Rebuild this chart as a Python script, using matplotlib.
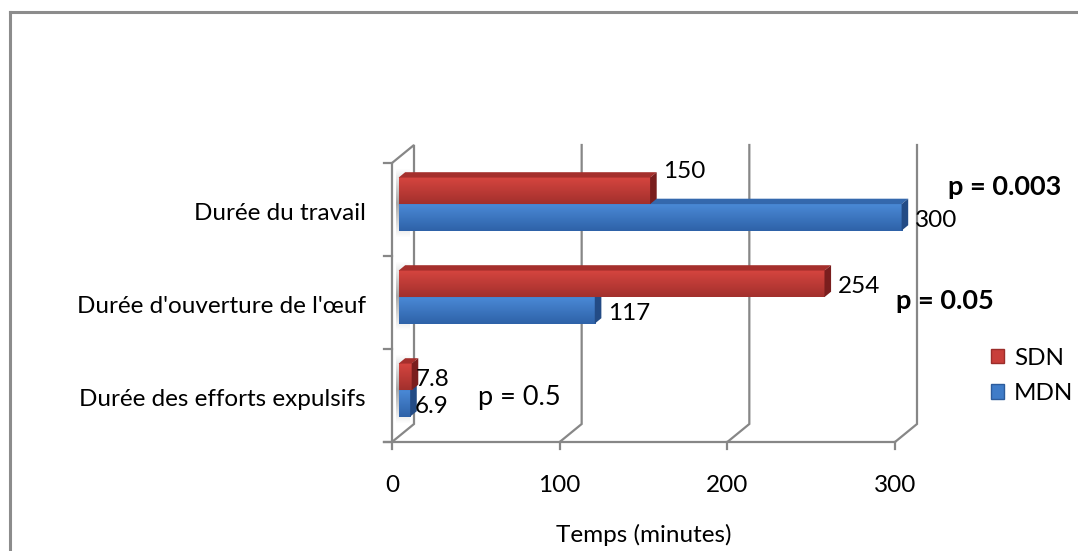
import matplotlib.pyplot as plt
import numpy as np
from matplotlib.patches import Polygon, Patch
from matplotlib.lines import Line2D
from matplotlib.colors import LinearSegmentedColormap

plt.rcParams['font.family'] = ['Lato', 'DejaVu Sans']

# data (bottom to top, as drawn)
categories = ["Durée des efforts expulsifs", "Durée d'ouverture de l'œuf", "Durée du travail"]
sdn = [7.8, 254, 150]
mdn = [6.9, 117, 300]
xticks = [0, 100, 200, 300]
p_texts = ["p = 0.5", "p = 0.05", "p = 0.003"]
p_bold = [False, True, True]

W, H = 1078, 551
fs = 17.5
fig = plt.figure(figsize=(W / 100, H / 100), dpi=100)

# front plane of the 3d box, in pixels
left_px, right_px, top_px, bot_px = 392, 895, 163, 442
ax = fig.add_axes([left_px / W, 1 - bot_px / H, (right_px - left_px) / W, (bot_px - top_px) / H])
ax.axis('off')
xmin, xmax, ymin, ymax = 0, 300, -0.5, 2.5
px_x = (right_px - left_px) / (xmax - xmin)
px_y = (bot_px - top_px) / (ymax - ymin)

# depth of the box (pixels -> data units)
DX = 22 / px_x
DY = 18 / px_y
f0, f1 = 0.3, 0.6          # depth slice used by the bars
bar_h = 26.5 / px_y

grid_col = '#878787'
lw = 1.6

# left wall
wall = Polygon([(0, ymin), (0, ymax), (DX, ymax + DY), (DX, ymin + DY)],
               closed=True, facecolor='white', edgecolor=grid_col, lw=lw, zorder=1, clip_on=False)
ax.add_patch(wall)

# back wall gridlines + floor diagonals
for v in xticks[1:]:
    ax.plot([v, v + DX, v + DX], [ymin, ymin + DY, ymax + DY], color=grid_col, lw=lw, zorder=1,
            solid_joinstyle='miter', clip_on=False)

# floor front line + ticks
tick_x = 8 / px_x
tick_y = 7 / px_y
ax.plot([-tick_x, xmax], [ymin, ymin], color=grid_col, lw=lw, clip_on=False, zorder=2)
for v in xticks:
    ax.plot([v, v], [ymin, ymin - tick_y], color=grid_col, lw=lw, clip_on=False, zorder=2)
    ax.annotate(str(v), (v, ymin), xytext=(0, -43), textcoords='offset pixels',
                ha='center', va='center', fontsize=fs, color='black')
for b in np.arange(ymin, ymax + 0.01, 1):
    ax.plot([-tick_x, 0], [b, b], color=grid_col, lw=lw, clip_on=False, zorder=2)

# shadows of bars on the left wall
shade = LinearSegmentedColormap.from_list('sh', ['#ffffff', '#a8a8a8', '#ffffff'])
for i in range(len(categories)):
    y0 = i - bar_h + f0 * DY
    y1 = i + bar_h + f1 * DY
    ax.imshow(np.linspace(0, 1, 64).reshape(-1, 1), extent=(0.2 * DX, 0.8 * DX, y0 - 0.08, y1 + 0.04),
              origin='lower', cmap=shade, aspect='auto', interpolation='bilinear', zorder=1.5, clip_on=False)


def draw_bar(val, yb, front_top, front_bot, top_col, side_col, z):
    x0 = f0 * DX
    x1 = val + f0 * DX
    y0 = yb + f0 * DY
    y1 = y0 + bar_h
    dd = f1 - f0
    cmap = LinearSegmentedColormap.from_list('g', [front_bot, front_top])
    ax.imshow(np.linspace(0, 1, 64).reshape(-1, 1), extent=(x0, x1, y0, y1), origin='lower',
              cmap=cmap, aspect='auto', interpolation='bilinear', zorder=z, clip_on=False)
    ax.add_patch(Polygon([(x0, y1), (x1, y1), (x1 + dd * DX, y1 + dd * DY), (x0 + dd * DX, y1 + dd * DY)],
                         closed=True, facecolor=top_col, edgecolor='none', zorder=z, clip_on=False))
    ax.add_patch(Polygon([(x1, y0), (x1, y1), (x1 + dd * DX, y1 + dd * DY), (x1 + dd * DX, y0 + dd * DY)],
                         closed=True, facecolor=side_col, edgecolor='none', zorder=z, clip_on=False))


red = dict(front_top='#d6453f', front_bot='#a2302d', top_col='#a52f2c', side_col='#7a1e1e')
blue = dict(front_top='#4a89d6', front_bot='#2e62a8', top_col='#3468ad', side_col='#234b85')

for i in range(len(categories)):
    draw_bar(mdn[i], i - bar_h, z=3, **blue)
    draw_bar(sdn[i], i, z=4, **red)

# value labels
label_nudge = {(2, 'sdn'): (0, 19), (0, 'sdn'): (-9, -3), (0, 'mdn'): (-9, -3)}
for i in range(len(categories)):
    for key, vals, yc in (('sdn', sdn, i + bar_h / 2), ('mdn', mdn, i - bar_h / 2)):
        dx, dy = label_nudge.get((i, key), (0, -3))
        txt = ('%g' % vals[i])
        ax.annotate(txt, (vals[i], yc + f0 * DY), xytext=(20 + dx, dy), textcoords='offset pixels',
                    ha='left', va='center', fontsize=fs, zorder=6)

# category labels
for i, c in enumerate(categories):
    ax.annotate(c, (0, i), xytext=(-26, -4), textcoords='offset pixels',
                ha='right', va='center', fontsize=fs)

# axis title
ax.annotate('Temps (minutes)', (150, ymin), xytext=(0, -93), textcoords='offset pixels',
            ha='center', va='center', fontsize=fs)

ax.set_xlim(xmin, xmax)
ax.set_ylim(ymin, ymax)

# p-values
p_pos = [(478, 398), (896, 301), (948, 187)]
for (px, py), t, b in zip(p_pos, p_texts, p_bold):
    fig.text(px / W, 1 - py / H, t, ha='left', va='center', fontsize=19.5,
             fontweight='bold' if b else 'normal')

# legend
handles = [Patch(facecolor='#c83e3a', edgecolor='#9b2d2a', label='SDN'),
           Patch(facecolor='#3f7cc8', edgecolor='#2c5c9c', label='MDN')]
fig.legend(handles=handles, loc='center left', bbox_to_anchor=(991 / W, 1 - 376 / H), frameon=False,
           fontsize=fs, handlelength=0.55, handleheight=0.55, handletextpad=0.4, labelspacing=0.6,
           borderaxespad=0, borderpad=0)

# outer chart border (top and left only visible)
fig.add_artist(Line2D([10 / W, 1], [1 - 12 / H, 1 - 12 / H], color='#8c8c8c', lw=2.2))
fig.add_artist(Line2D([10 / W, 10 / W], [0, 1 - 12 / H], color='#8c8c8c', lw=2.2))

fig.savefig('out.png', dpi=100, facecolor='white')
